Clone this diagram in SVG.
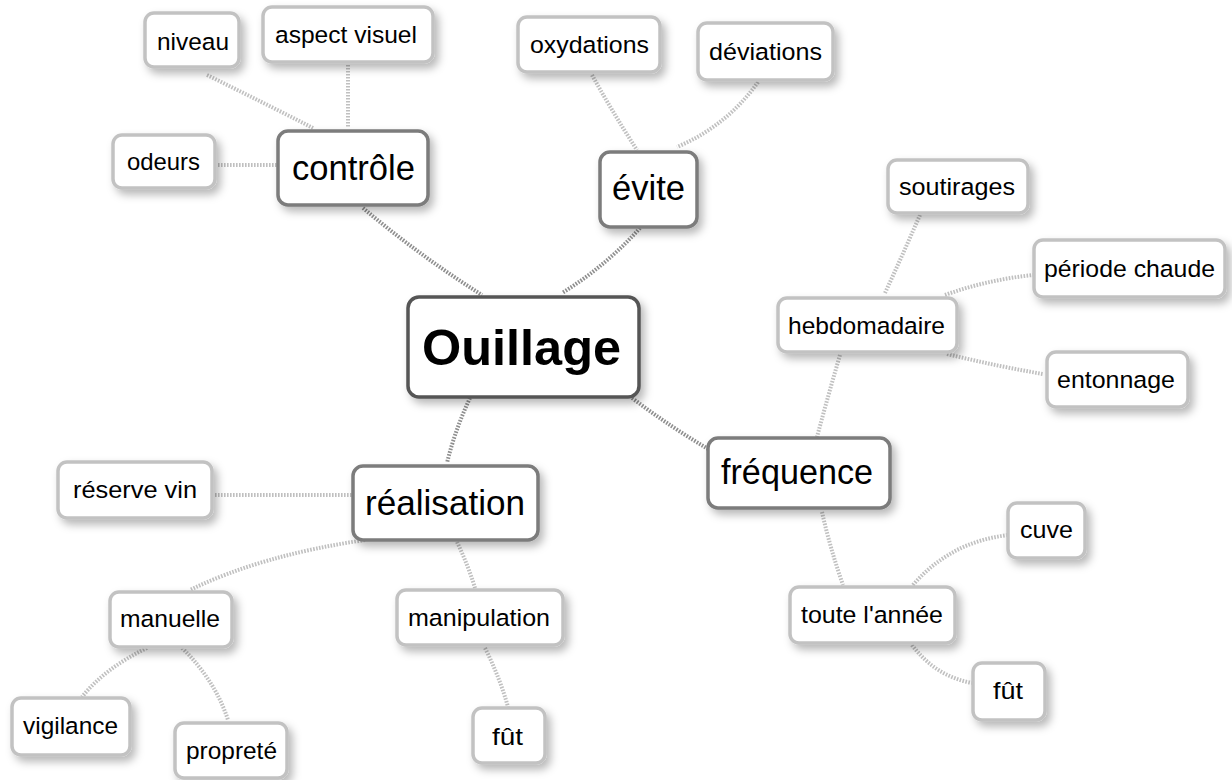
<svg xmlns="http://www.w3.org/2000/svg" width="1232" height="780" viewBox="0 0 1232 780">
<defs>
<filter id="sh" x="-20%" y="-20%" width="150%" height="160%">
<feDropShadow dx="4" dy="5" stdDeviation="4" flood-color="#000" flood-opacity="0.28"/>
</filter>
<style>
.n rect{fill:#fff;stroke:#c2c2c2;stroke-width:3.5;filter:url(#sh)}
.m rect{fill:#fff;stroke:#7c7c7c;stroke-width:3.5;filter:url(#sh)}
.c rect{fill:#fff;stroke:#555;stroke-width:3.5;filter:url(#sh)}
text{font-family:"Liberation Sans",Arial,sans-serif;fill:#000}
.n text{font-size:24.5px}
.m text{font-size:34.5px}
.c text{font-size:50px;font-weight:bold}
#links path{fill:none;stroke-width:4;stroke-dasharray:1.6 1.4}
.lm{stroke:#8e8e8e}
.lc{stroke:#c0c0c0}
</style>
</defs>
<rect width="1232" height="780" fill="#fff"/>
<g id="links">
<path class="lm" d="M363,208 Q420,256 482,295"/>
<path class="lm" d="M640,228 Q606,266 562,293"/>
<path class="lm" d="M470,398 Q455,430 447,463"/>
<path class="lm" d="M632,398 Q672,428 710,450"/>
<path class="lc" d="M207,75 Q262,102 313,128"/>
<path class="lc" d="M348,65 L348,128"/>
<path class="lc" d="M218,165 L278,165"/>
<path class="lc" d="M592,75 Q613,113 637,150"/>
<path class="lc" d="M758,82 Q728,125 677,147"/>
<path class="lc" d="M840,355 Q828,396 817,437"/>
<path class="lc" d="M885,293 Q903,254 920,215"/>
<path class="lc" d="M945,295 Q986,280 1033,275"/>
<path class="lc" d="M947,354 Q996,366 1043,374"/>
<path class="lc" d="M822,512 Q830,548 843,585"/>
<path class="lc" d="M913,585 Q950,542 1008,535"/>
<path class="lc" d="M912,645 Q935,676 972,683"/>
<path class="lc" d="M215,495 L352,495"/>
<path class="lc" d="M365,540 Q262,555 190,590"/>
<path class="lc" d="M457,542 Q468,565 475,588"/>
<path class="lc" d="M147,648 Q105,668 82,697"/>
<path class="lc" d="M182,648 Q215,680 228,720"/>
<path class="lc" d="M485,648 Q500,678 508,707"/>
</g>
<g id="node-ouillage" class="c"><rect x="408" y="297" width="231" height="100" rx="11"/><text x="422" y="365" textLength="199" lengthAdjust="spacingAndGlyphs">Ouillage</text></g>
<g id="node-controle" class="m"><rect x="278" y="131" width="150" height="74" rx="10"/><text x="292" y="180" textLength="123" lengthAdjust="spacingAndGlyphs">contrôle</text></g>
<g id="node-evite" class="m"><rect x="600" y="152" width="97" height="75" rx="10"/><text x="612" y="200" textLength="73" lengthAdjust="spacingAndGlyphs">évite</text></g>
<g id="node-frequence" class="m"><rect x="708" y="438" width="182" height="70" rx="10"/><text x="721" y="484" textLength="152" lengthAdjust="spacingAndGlyphs">fréquence</text></g>
<g id="node-realisation" class="m"><rect x="353" y="466" width="185" height="74" rx="10"/><text x="365" y="515" textLength="160" lengthAdjust="spacingAndGlyphs">réalisation</text></g>
<g id="node-niveau" class="n"><rect x="145" y="13" width="94" height="54" rx="9"/><text x="157" y="50" textLength="72" lengthAdjust="spacingAndGlyphs">niveau</text></g>
<g id="node-aspect" class="n"><rect x="263" y="7" width="170" height="55" rx="9"/><text x="275" y="43" textLength="142" lengthAdjust="spacingAndGlyphs">aspect visuel</text></g>
<g id="node-odeurs" class="n"><rect x="113" y="135" width="102" height="53" rx="9"/><text x="127" y="170" textLength="73" lengthAdjust="spacingAndGlyphs">odeurs</text></g>
<g id="node-oxydations" class="n"><rect x="518" y="17" width="142" height="55" rx="9"/><text x="530" y="53" textLength="119" lengthAdjust="spacingAndGlyphs">oxydations</text></g>
<g id="node-deviations" class="n"><rect x="698" y="23" width="135" height="57" rx="9"/><text x="709" y="60" textLength="113" lengthAdjust="spacingAndGlyphs">déviations</text></g>
<g id="node-soutirages" class="n"><rect x="888" y="160" width="140" height="53" rx="9"/><text x="899" y="195" textLength="116" lengthAdjust="spacingAndGlyphs">soutirages</text></g>
<g id="node-periode" class="n"><rect x="1034" y="240" width="191" height="57" rx="9"/><text x="1044" y="277" textLength="171" lengthAdjust="spacingAndGlyphs">période chaude</text></g>
<g id="node-hebdo" class="n"><rect x="778" y="298" width="179" height="54" rx="9"/><text x="788" y="334" textLength="157" lengthAdjust="spacingAndGlyphs">hebdomadaire</text></g>
<g id="node-entonnage" class="n"><rect x="1047" y="352" width="141" height="55" rx="9"/><text x="1057" y="388" textLength="118" lengthAdjust="spacingAndGlyphs">entonnage</text></g>
<g id="node-cuve" class="n"><rect x="1008" y="503" width="77" height="55" rx="9"/><text x="1020" y="538" textLength="53" lengthAdjust="spacingAndGlyphs">cuve</text></g>
<g id="node-toute" class="n"><rect x="790" y="587" width="165" height="56" rx="9"/><text x="801" y="623" textLength="142" lengthAdjust="spacingAndGlyphs">toute l'année</text></g>
<g id="node-fut1" class="n"><rect x="973" y="663" width="72" height="57" rx="9"/><text x="993" y="699" textLength="30" lengthAdjust="spacingAndGlyphs">fût</text></g>
<g id="node-reserve" class="n"><rect x="58" y="462" width="154" height="56" rx="9"/><text x="73" y="498" textLength="124" lengthAdjust="spacingAndGlyphs">réserve vin</text></g>
<g id="node-manuelle" class="n"><rect x="110" y="592" width="122" height="55" rx="9"/><text x="120" y="627" textLength="100" lengthAdjust="spacingAndGlyphs">manuelle</text></g>
<g id="node-manipulation" class="n"><rect x="397" y="590" width="166" height="55" rx="9"/><text x="408" y="626" textLength="142" lengthAdjust="spacingAndGlyphs">manipulation</text></g>
<g id="node-vigilance" class="n"><rect x="12" y="698" width="118" height="57" rx="9"/><text x="23" y="734" textLength="95" lengthAdjust="spacingAndGlyphs">vigilance</text></g>
<g id="node-proprete" class="n"><rect x="175" y="723" width="112" height="55" rx="9"/><text x="186" y="759" textLength="91" lengthAdjust="spacingAndGlyphs">propreté</text></g>
<g id="node-fut2" class="n"><rect x="473" y="708" width="72" height="55" rx="9"/><text x="492" y="745" textLength="31" lengthAdjust="spacingAndGlyphs">fût</text></g>
</svg>
